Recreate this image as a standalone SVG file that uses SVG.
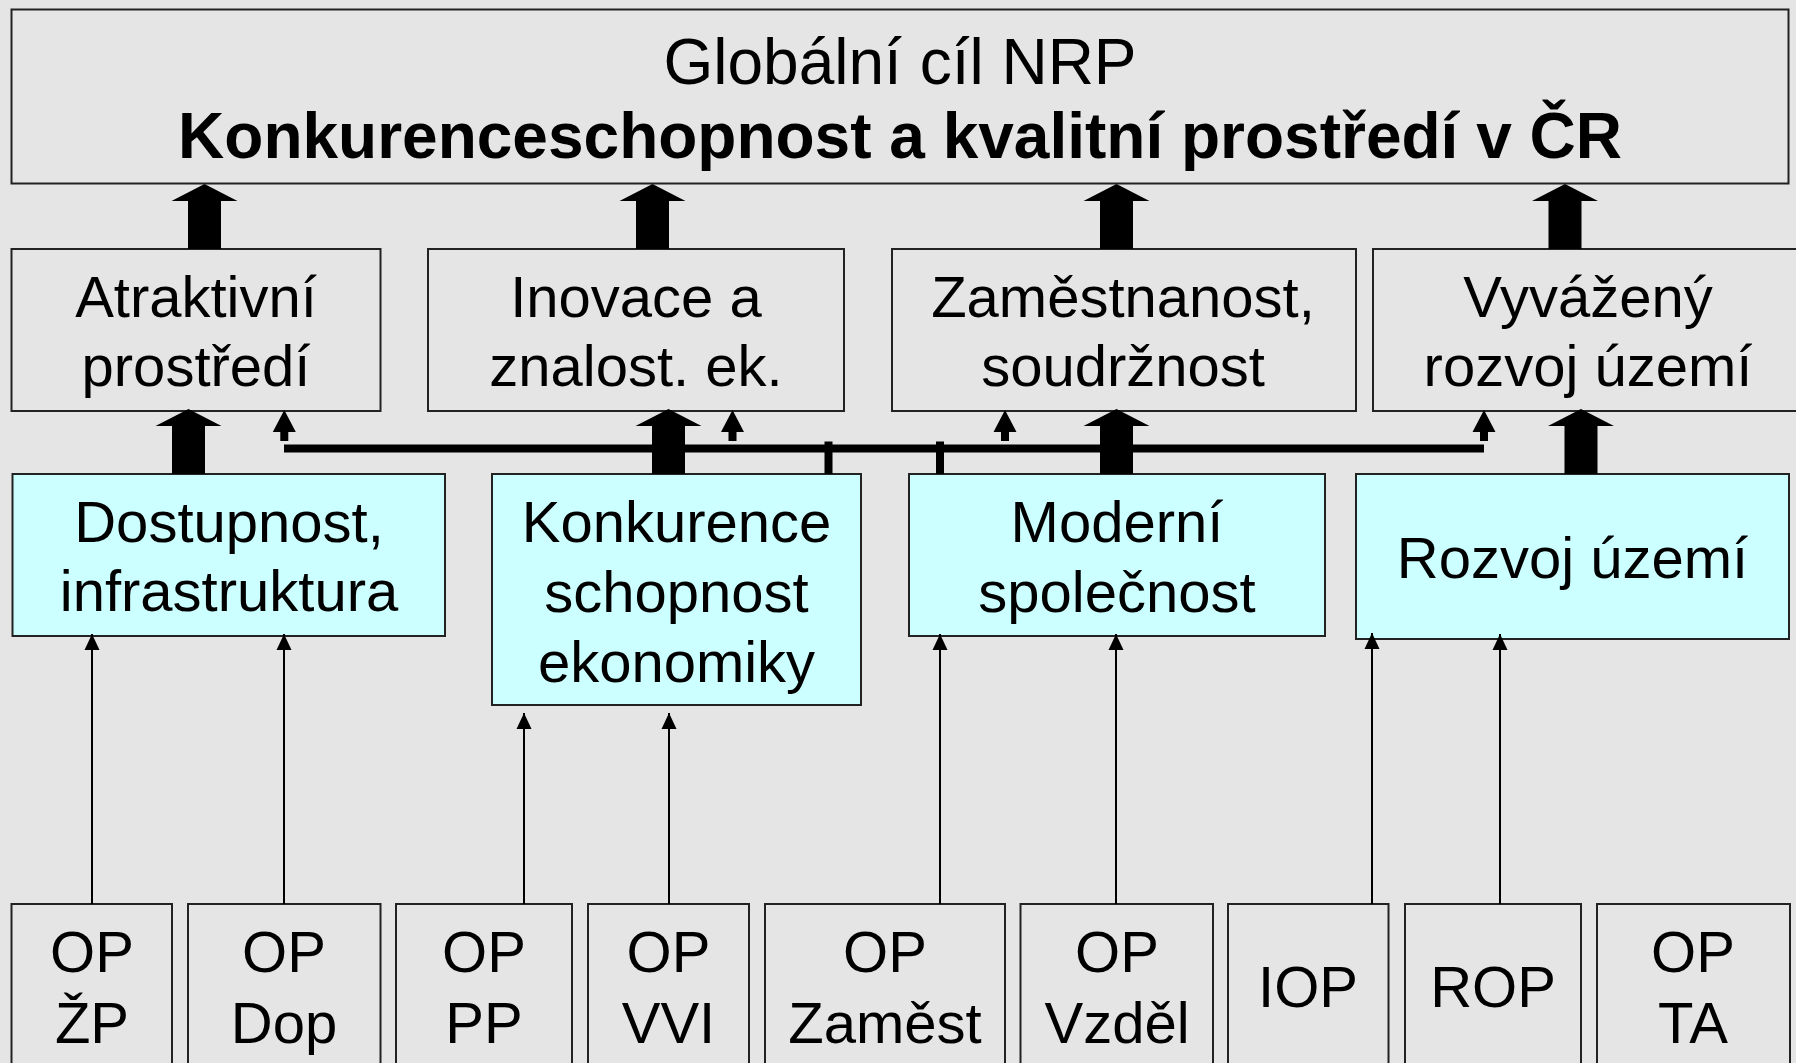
<svg xmlns="http://www.w3.org/2000/svg" xmlns:xlink="http://www.w3.org/1999/xlink" width="1796" height="1063" viewBox="0 0 1796 1063">
<style>
.box{fill:#E5E5E5;stroke:#222;stroke-width:2}
.cyan{fill:#CCFFFF;stroke:#222;stroke-width:2}
text{font-family:"Liberation Sans",Arial,sans-serif;font-size:58px;fill:#000;text-anchor:middle}
.title{font-size:64px}
.bold{font-weight:bold}
.thin{stroke:#000;stroke-width:2;fill:none;marker-end:url(#ah)}
</style>
<defs>
<marker id="ah" markerUnits="userSpaceOnUse" markerWidth="16" markerHeight="16" viewBox="0 0 16 16" refX="16" refY="8" orient="auto">
<path d="M0,0.5 L16,8 L0,15.5 Z" fill="#000"/>
</marker>
<path id="thick" d="M0,0 L33,17 L16.5,17 L16.5,65 L-16.5,65 L-16.5,17 L-33,17 Z" fill="#000"/>
<path id="small" d="M0,0 L11.5,22 L4,22 L4,31 L-4,31 L-4,22 L-11.5,22 Z" fill="#000"/>
</defs>
<rect x="0" y="0" width="1796" height="1063" fill="#E5E5E5"/>

<g id="goal">
<rect class="box" x="11.5" y="9.5" width="1777" height="174"/>
<text class="title" x="900" y="84">Globální cíl NRP</text>
<text class="title bold" x="900" y="158">Konkurenceschopnost a kvalitní prostředí v ČR</text>
</g>

<g id="atraktivni">
<rect class="box" x="11.5" y="249" width="369" height="162"/>
<text x="196" y="317">Atraktivní</text>
<text x="196" y="386">prostředí</text>
</g>
<g id="inovace">
<rect class="box" x="428" y="249" width="416" height="162"/>
<text x="636" y="317">Inovace a</text>
<text x="636" y="386">znalost. ek.</text>
</g>
<g id="zamestnanost">
<rect class="box" x="892" y="249" width="464" height="162"/>
<text x="1123" y="317">Zaměstnanost,</text>
<text x="1123" y="386">soudržnost</text>
</g>
<g id="vyvazeny">
<rect class="box" x="1373" y="249" width="430" height="162"/>
<text x="1588" y="317">Vyvážený</text>
<text x="1588" y="386">rozvoj území</text>
</g>

<g id="dostupnost">
<rect class="cyan" x="12.5" y="474" width="432.5" height="162"/>
<text x="229" y="542">Dostupnost,</text>
<text x="229" y="611">infrastruktura</text>
</g>
<g id="konkurence">
<rect class="cyan" x="492" y="474" width="369" height="231"/>
<text x="676.5" y="542">Konkurence</text>
<text x="676.5" y="612">schopnost</text>
<text x="676.5" y="682">ekonomiky</text>
</g>
<g id="moderni">
<rect class="cyan" x="909" y="474" width="416" height="162"/>
<text x="1117" y="542">Moderní</text>
<text x="1117" y="612">společnost</text>
</g>
<g id="rozvoj">
<rect class="cyan" x="1356" y="474" width="433" height="165"/>
<text x="1572.5" y="578">Rozvoj území</text>
</g>

<g id="op-zp">
<rect class="box" x="11.5" y="904" width="160.5" height="180"/>
<text x="92" y="972">OP</text>
<text x="92" y="1043">ŽP</text>
</g>
<g id="op-dop">
<rect class="box" x="188" y="904" width="192.5" height="180"/>
<text x="284" y="972">OP</text>
<text x="284" y="1043">Dop</text>
</g>
<g id="op-pp">
<rect class="box" x="396" y="904" width="176" height="180"/>
<text x="484" y="972">OP</text>
<text x="484" y="1043">PP</text>
</g>
<g id="op-vvi">
<rect class="box" x="588" y="904" width="161" height="180"/>
<text x="668.5" y="972">OP</text>
<text x="668.5" y="1043">VVI</text>
</g>
<g id="op-zamest">
<rect class="box" x="765" y="904" width="240" height="180"/>
<text x="885" y="972">OP</text>
<text x="885" y="1043">Zaměst</text>
</g>
<g id="op-vzdel">
<rect class="box" x="1020.5" y="904" width="192.5" height="180"/>
<text x="1117" y="972">OP</text>
<text x="1117" y="1043">Vzděl</text>
</g>
<g id="iop">
<rect class="box" x="1228" y="904" width="160.5" height="180"/>
<text x="1308" y="1007">IOP</text>
</g>
<g id="rop">
<rect class="box" x="1405" y="904" width="176" height="180"/>
<text x="1493" y="1007">ROP</text>
</g>
<g id="op-ta">
<rect class="box" x="1597" y="904" width="193" height="180"/>
<text x="1693" y="972">OP</text>
<text x="1693" y="1043">TA</text>
</g>

<g id="connectors">
<use xlink:href="#thick" x="204.5" y="184"/>
<use xlink:href="#thick" x="652.5" y="184"/>
<use xlink:href="#thick" x="1116.5" y="184"/>
<use xlink:href="#thick" x="1565" y="184"/>
<use xlink:href="#thick" x="188.5" y="409"/>
<use xlink:href="#thick" x="668.5" y="409"/>
<use xlink:href="#thick" x="1116.5" y="409"/>
<use xlink:href="#thick" x="1581" y="409"/>
<rect x="284" y="444.5" width="1200" height="8" fill="#000"/>
<rect x="824.5" y="441.5" width="8" height="32.5" fill="#000"/>
<rect x="936" y="441.5" width="8" height="32.5" fill="#000"/>
<use xlink:href="#small" x="284.3" y="410"/>
<use xlink:href="#small" x="732.5" y="410"/>
<use xlink:href="#small" x="1005" y="410"/>
<use xlink:href="#small" x="1484" y="410"/>
<line class="thin" x1="92" y1="904" x2="92" y2="634"/>
<line class="thin" x1="284" y1="904" x2="284" y2="634"/>
<line class="thin" x1="524" y1="904" x2="524" y2="713"/>
<line class="thin" x1="669" y1="904" x2="669" y2="713"/>
<line class="thin" x1="940" y1="904" x2="940" y2="634"/>
<line class="thin" x1="1116" y1="904" x2="1116" y2="634"/>
<line class="thin" x1="1372" y1="904" x2="1372" y2="633"/>
<line class="thin" x1="1500" y1="904" x2="1500" y2="634"/>
</g>
</svg>
